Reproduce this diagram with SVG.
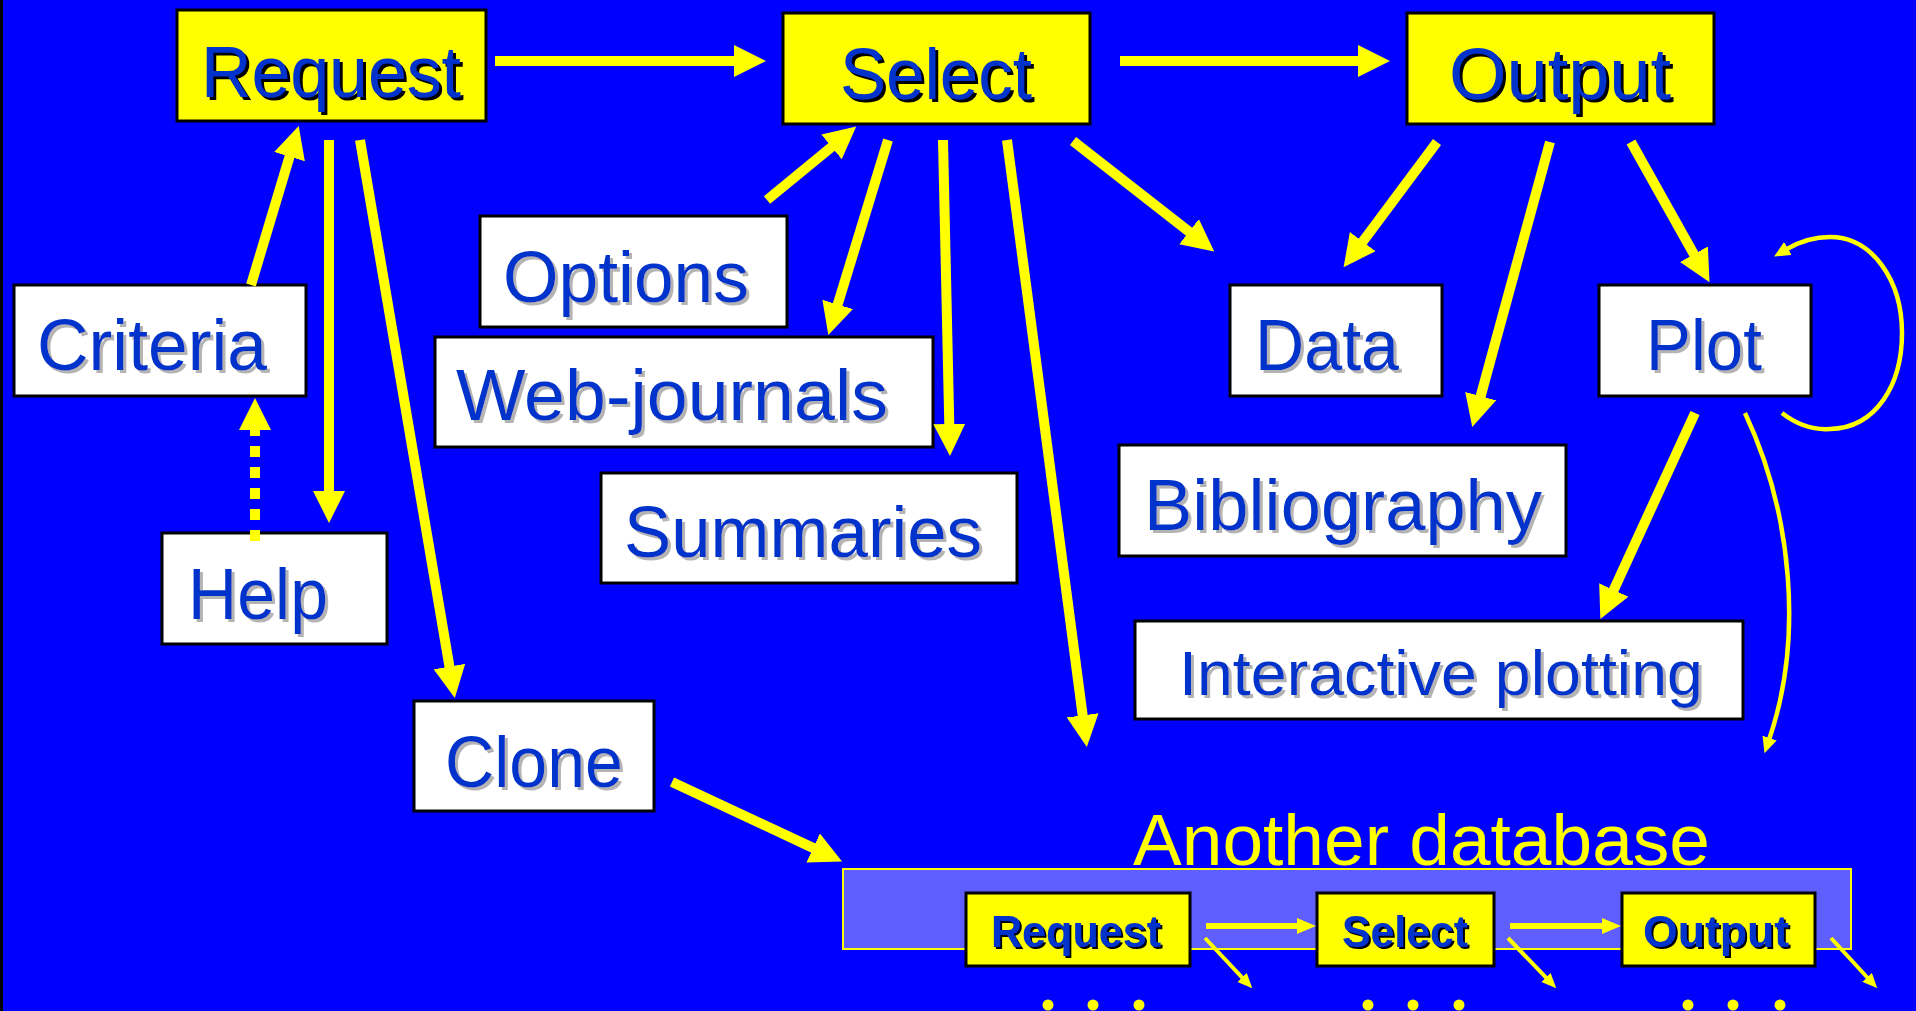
<svg xmlns="http://www.w3.org/2000/svg" width="1916" height="1011" viewBox="0 0 1916 1011">
  <style>
    .bg { fill: #0000FF; }
    .ybox { fill: #FFFF00; stroke: #000000; stroke-width: 3; }
    .wbox { fill: #FFFFFF; stroke: #000000; stroke-width: 3; }
    .lbl { font-family: "Liberation Sans", Arial, sans-serif; font-size: 72px; fill: #0033CC; }
    .slbl { font-family: "Liberation Sans", Arial, sans-serif; font-size: 44px; font-weight: bold; fill: #0033CC; }
    .db { font-family: "Liberation Sans", Arial, sans-serif; font-size: 72px; fill: #FFFF00; }
    .ln { fill: none; stroke: #FFFF00; stroke-width: 10; }
    .thin { fill: none; stroke: #FFFF00; stroke-width: 4.5; }
    .sm { fill: none; stroke: #FFFF00; stroke-width: 6; }
    .smd { fill: none; stroke: #FFFF00; stroke-width: 4; }
    .dash { fill: none; stroke: #FFFF00; stroke-width: 10; stroke-dasharray: 11 10; }
    .dot { fill: #FFFF00; }
  </style>
  <defs>
    <marker id="ah" viewBox="0 0 32 32" markerWidth="32" markerHeight="32" refX="1" refY="16" orient="auto" markerUnits="userSpaceOnUse">
      <path d="M0,0 L32,16 L0,32 z" fill="#FFFF00"/>
    </marker>
    <marker id="at" viewBox="0 0 16 15" markerWidth="16" markerHeight="15" refX="1" refY="7.5" orient="auto" markerUnits="userSpaceOnUse">
      <path d="M0,0 L16,7.5 L0,15 z" fill="#FFFF00"/>
    </marker>
    <marker id="as" viewBox="0 0 19 16" markerWidth="19" markerHeight="16" refX="1" refY="8" orient="auto" markerUnits="userSpaceOnUse">
      <path d="M0,0 L19,8 L0,16 z" fill="#FFFF00"/>
    </marker>
    <marker id="ad" viewBox="0 0 15 13" markerWidth="15" markerHeight="13" refX="1" refY="6.5" orient="auto" markerUnits="userSpaceOnUse">
      <path d="M0,0 L15,6.5 L0,13 z" fill="#FFFF00"/>
    </marker>
    <!-- crisp offset shadows behind the labels -->
    <filter id="shGray" x="-5%" y="-10%" width="115%" height="130%">
      <feOffset in="SourceAlpha" dx="3" dy="3" result="o"/>
      <feFlood flood-color="#B4B4B4"/>
      <feComposite in2="o" operator="in" result="s"/>
      <feMerge><feMergeNode in="s"/><feMergeNode in="SourceGraphic"/></feMerge>
    </filter>
    <filter id="shDark" x="-5%" y="-10%" width="115%" height="130%">
      <feOffset in="SourceAlpha" dx="3" dy="3" result="o"/>
      <feFlood flood-color="#000000"/>
      <feComposite in2="o" operator="in" result="s"/>
      <feMerge><feMergeNode in="s"/><feMergeNode in="SourceGraphic"/></feMerge>
    </filter>
    <filter id="shSmall" x="-5%" y="-10%" width="115%" height="130%">
      <feOffset in="SourceAlpha" dx="1.5" dy="1.5" result="o"/>
      <feFlood flood-color="#000000"/>
      <feComposite in2="o" operator="in" result="s"/>
      <feMerge><feMergeNode in="s"/><feMergeNode in="SourceGraphic"/></feMerge>
    </filter>
  </defs>

  <!-- background -->
  <rect class="bg" x="0" y="0" width="1916" height="1011"/>
  <rect x="0" y="0" width="3" height="1011" fill="#000000"/>

  <!-- main flow -->
  <g id="request">
    <rect class="ybox" x="177" y="10" width="309" height="111"/>
    <text class="lbl" x="201" y="97" textLength="260" lengthAdjust="spacingAndGlyphs" filter="url(#shDark)">Request</text>
  </g>
  <g id="select">
    <rect class="ybox" x="783" y="13" width="307" height="111"/>
    <text class="lbl" x="840" y="99" textLength="192" lengthAdjust="spacingAndGlyphs" filter="url(#shDark)">Select</text>
  </g>
  <g id="output">
    <rect class="ybox" x="1407" y="13" width="307" height="111"/>
    <text class="lbl" x="1449" y="99" textLength="222" lengthAdjust="spacingAndGlyphs" filter="url(#shDark)">Output</text>
  </g>

  <!-- request side -->
  <g id="criteria">
    <rect class="wbox" x="14" y="285" width="292" height="111"/>
    <text class="lbl" x="37" y="370" textLength="230" lengthAdjust="spacingAndGlyphs" filter="url(#shGray)">Criteria</text>
  </g>
  <g id="help">
    <rect class="wbox" x="162" y="533" width="225" height="111"/>
    <text class="lbl" x="188" y="619" textLength="140" lengthAdjust="spacingAndGlyphs" filter="url(#shGray)">Help</text>
  </g>
  <g id="clone">
    <rect class="wbox" x="414" y="701" width="240" height="110"/>
    <text class="lbl" x="445" y="787" textLength="178" lengthAdjust="spacingAndGlyphs" filter="url(#shGray)">Clone</text>
  </g>

  <!-- select side -->
  <g id="options">
    <rect class="wbox" x="480" y="216" width="307" height="111"/>
    <text class="lbl" x="503" y="302" textLength="246" lengthAdjust="spacingAndGlyphs" filter="url(#shGray)">Options</text>
  </g>
  <g id="web-journals">
    <rect class="wbox" x="435" y="337" width="498" height="110"/>
    <text class="lbl" x="456" y="420" textLength="432" lengthAdjust="spacingAndGlyphs" filter="url(#shGray)">Web-journals</text>
  </g>
  <g id="summaries">
    <rect class="wbox" x="601" y="473" width="416" height="110"/>
    <text class="lbl" x="624" y="557" textLength="358" lengthAdjust="spacingAndGlyphs" filter="url(#shGray)">Summaries</text>
  </g>

  <!-- output side -->
  <g id="data">
    <rect class="wbox" x="1230" y="285" width="212" height="111"/>
    <text class="lbl" x="1255" y="370" textLength="144" lengthAdjust="spacingAndGlyphs" filter="url(#shGray)">Data</text>
  </g>
  <g id="plot">
    <rect class="wbox" x="1599" y="285" width="212" height="111"/>
    <text class="lbl" x="1646" y="370" textLength="116" lengthAdjust="spacingAndGlyphs" filter="url(#shGray)">Plot</text>
  </g>
  <g id="bibliography">
    <rect class="wbox" x="1119" y="445" width="447" height="111"/>
    <text class="lbl" x="1144" y="530" textLength="398" lengthAdjust="spacingAndGlyphs" filter="url(#shGray)">Bibliography</text>
  </g>
  <g id="interactive-plotting">
    <rect class="wbox" x="1135" y="621" width="608" height="98"/>
    <text class="lbl" x="1179" y="695" style="font-size:63px" textLength="524" lengthAdjust="spacingAndGlyphs" filter="url(#shGray)">Interactive plotting</text>
  </g>

  <!-- the next database, as a miniature of the same flow -->
  <g id="another-database">
    <text class="db" x="1133" y="865" textLength="577" lengthAdjust="spacingAndGlyphs">Another database</text>
    <rect x="843" y="869" width="1008" height="80" fill="#5F5FFF" stroke="#FFFF00" stroke-width="2"/>
  </g>
  <g id="db-request">
    <rect class="ybox" x="966" y="893" width="224" height="73"/>
    <text class="slbl" x="991" y="947" textLength="170" lengthAdjust="spacingAndGlyphs" filter="url(#shSmall)">Request</text>
  </g>
  <g id="db-select">
    <rect class="ybox" x="1317" y="893" width="177" height="73"/>
    <text class="slbl" x="1342" y="947" textLength="126" lengthAdjust="spacingAndGlyphs" filter="url(#shSmall)">Select</text>
  </g>
  <g id="db-output">
    <rect class="ybox" x="1622" y="893" width="193" height="73"/>
    <text class="slbl" x="1643" y="947" textLength="146" lengthAdjust="spacingAndGlyphs" filter="url(#shSmall)">Output</text>
  </g>

  <!-- connectors -->
  <g id="connectors">
    <path class="ln" d="M495,61 L735,61" marker-end="url(#ah)"/>
    <path class="ln" d="M1120,61 L1359,61" marker-end="url(#ah)"/>
    <path class="ln" d="M251,285 L289.8,155.7" marker-end="url(#ah)"/>
    <path class="ln" d="M329,140 L329,492" marker-end="url(#ah)"/>
    <path class="ln" d="M360,140 L449.6,667.5" marker-end="url(#ah)"/>
    <path class="dash" d="M255,541 L255,429" marker-end="url(#ah)"/>
    <path class="ln" d="M767,200 L832.3,146.3" marker-end="url(#ah)"/>
    <path class="ln" d="M888,140 L837.4,305.4" marker-end="url(#ah)"/>
    <path class="ln" d="M943,140 L949.3,425" marker-end="url(#ah)"/>
    <path class="ln" d="M1007,140 L1082.8,716.3" marker-end="url(#ah)"/>
    <path class="ln" d="M1073,141 L1189.8,232.3" marker-end="url(#ah)"/>
    <path class="ln" d="M1437,142 L1362.1,242.4" marker-end="url(#ah)"/>
    <path class="ln" d="M1550,142 L1480.4,397.1" marker-end="url(#ah)"/>
    <path class="ln" d="M1631,142 L1694.4,255.1" marker-end="url(#ah)"/>
    <path class="ln" d="M1695,413 L1613.3,590.9" marker-end="url(#ah)"/>
    <path class="ln" d="M672,782 L814,848.4" marker-end="url(#ah)"/>
    <path class="thin" d="M1745,413 C1793,515 1803,640 1769.3,739" marker-end="url(#at)"/>
    <path class="thin" d="M1782,413 C1800,427 1815,430 1830,429 C1876,428 1902,385 1902,333 C1902,280 1872,237 1830,237 C1814,237 1799,242 1787,249" marker-end="url(#at)"/>
    <path class="sm" d="M1206,926 L1298,926" marker-end="url(#as)"/>
    <path class="sm" d="M1510,926 L1603,926" marker-end="url(#as)"/>
    <path class="smd" d="M1205,938 L1242.7,978.1" marker-end="url(#ad)"/>
    <path class="smd" d="M1508,938 L1546.6,978.2" marker-end="url(#ad)"/>
    <path class="smd" d="M1831,938 L1867.8,978" marker-end="url(#ad)"/>
  </g>

  <!-- continuation dots -->
  <g id="continuation">
    <circle class="dot" cx="1048" cy="1005" r="5.5"/>
    <circle class="dot" cx="1093" cy="1005" r="5.5"/>
    <circle class="dot" cx="1139" cy="1005" r="5.5"/>
    <circle class="dot" cx="1368" cy="1005" r="5.5"/>
    <circle class="dot" cx="1413" cy="1005" r="5.5"/>
    <circle class="dot" cx="1459" cy="1005" r="5.5"/>
    <circle class="dot" cx="1688" cy="1005" r="5.5"/>
    <circle class="dot" cx="1733" cy="1005" r="5.5"/>
    <circle class="dot" cx="1780" cy="1005" r="5.5"/>
  </g>
</svg>
